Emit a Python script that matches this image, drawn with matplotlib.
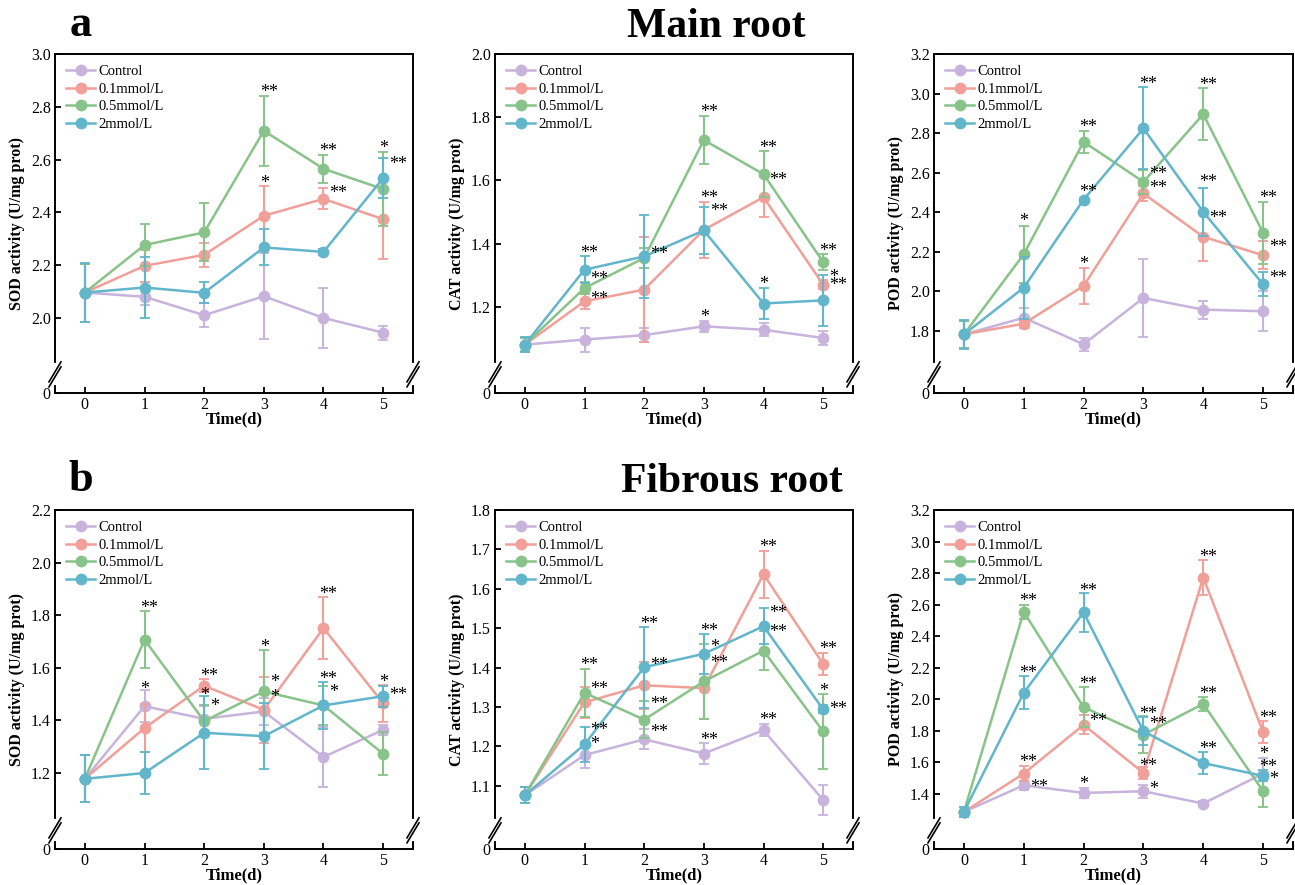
import numpy as np
import matplotlib
matplotlib.use("Agg")
import matplotlib.pyplot as plt

plt.rcParams['font.family'] = ['Liberation Serif', 'DejaVu Serif']

# data
days = [0, 1, 2, 3, 4, 5]
groups = ['Control', '0.1mmol/L', '0.5mmol/L', '2mmol/L']
colors = ['#c8b3dc', '#f09f99', '#88c389', '#62b6cb']

# main root SOD
sod_main = [
    [2.096, 2.080, 2.010, 2.082, 2.000, 1.944],
    [2.096, 2.197, 2.239, 2.387, 2.451, 2.374],
    [2.096, 2.276, 2.324, 2.709, 2.565, 2.488],
    [2.096, 2.115, 2.095, 2.267, 2.250, 2.530],
]
sod_main_err = [
    [0.11, 0.03, 0.045, 0.163, 0.115, 0.027],
    [0.11, 0.06, 0.045, 0.114, 0.04, 0.15],
    [0.11, 0.078, 0.11, 0.133, 0.053, 0.14],
    [0.112, 0.115, 0.04, 0.068, 0.012, 0.077],
]
sod_main_stars = [(3, 2.87, '**', 'c'), (3, 2.525, '*', 'c'), (4, 2.646, '**', 'c'),
                  (4, 2.49, '**', 'r'), (5, 2.66, '*', 'c'), (5, 2.60, '**', 'r')]

# main root CAT
cat_main = [
    [1.081, 1.097, 1.111, 1.139, 1.128, 1.102],
    [1.081, 1.218, 1.255, 1.444, 1.547, 1.271],
    [1.081, 1.260, 1.355, 1.728, 1.620, 1.342],
    [1.081, 1.318, 1.360, 1.442, 1.211, 1.221],
]
cat_main_err = [
    [0.023, 0.038, 0.021, 0.017, 0.021, 0.023],
    [0.02, 0.024, 0.165, 0.088, 0.063, 0.015],
    [0.02, 0.02, 0.031, 0.077, 0.072, 0.024],
    [0.023, 0.043, 0.13, 0.074, 0.049, 0.08],
]
cat_main_stars = [(1, 1.384, '**', 'c'), (1, 1.302, '**', 'r'), (1, 1.237, '**', 'r'),
                  (2, 1.381, '**', 'r'), (3, 1.83, '**', 'c'), (3, 1.557, '**', 'c'),
                  (3, 1.516, '**', 'r'), (3, 1.181, '*', 'c'), (4, 1.716, '**', 'c'),
                  (4, 1.613, '**', 'r'), (4, 1.284, '*', 'c'), (5, 1.389, '**', 'c'),
                  (5, 1.307, '*', 'r'), (5, 1.281, '**', 'r')]

# main root POD
pod_main = [
    [1.783, 1.867, 1.733, 1.967, 1.908, 1.900],
    [1.783, 1.837, 2.028, 2.495, 2.276, 2.183],
    [1.783, 2.188, 2.756, 2.554, 2.896, 2.296],
    [1.783, 2.019, 2.464, 2.824, 2.402, 2.036],
]
pod_main_err = [
    [0.07, 0.05, 0.034, 0.196, 0.046, 0.10],
    [0.07, 0.02, 0.09, 0.04, 0.12, 0.07],
    [0.07, 0.143, 0.056, 0.06, 0.13, 0.157],
    [0.072, 0.157, 0.01, 0.207, 0.123, 0.06],
]
pod_main_stars = [(1, 2.377, '*', 'c'), (2, 2.849, '**', 'c'), (2, 2.523, '**', 'c'),
                  (2, 2.157, '*', 'c'), (3, 3.068, '**', 'c'), (3, 2.613, '**', 'r'),
                  (3, 2.542, '**', 'r'), (4, 3.063, '**', 'c'), (4, 2.571, '**', 'c'),
                  (4, 2.39, '**', 'r'), (5, 2.495, '**', 'c'), (5, 2.247, '**', 'r'),
                  (5, 2.09, '**', 'r')]

# fibrous root SOD
sod_fib = [
    [1.178, 1.454, 1.406, 1.434, 1.261, 1.364],
    [1.178, 1.371, 1.532, 1.440, 1.751, 1.465],
    [1.178, 1.707, 1.397, 1.510, 1.457, 1.273],
    [1.178, 1.200, 1.353, 1.340, 1.457, 1.492],
]
sod_fib_err = [
    [0.089, 0.06, 0.05, 0.05, 0.114, 0.02],
    [0.089, 0.09, 0.025, 0.124, 0.117, 0.07],
    [0.089, 0.109, 0.06, 0.158, 0.075, 0.082],
    [0.089, 0.08, 0.139, 0.126, 0.088, 0.04],
]
sod_fib_stars = [(1, 1.842, '**', 'c'), (1, 1.535, '*', 'c'), (2, 1.583, '**', 'c'),
                 (2, 1.513, '*', 'c'), (2, 1.472, '*', 'r'), (3, 1.693, '*', 'c'),
                 (3, 1.562, '*', 'r'), (3, 1.505, '*', 'r'), (4, 1.895, '**', 'c'),
                 (4, 1.574, '**', 'c'), (4, 1.522, '*', 'r'), (5, 1.562, '*', 'c'),
                 (5, 1.513, '**', 'r')]

# fibrous root CAT
cat_fib = [
    [1.076, 1.178, 1.218, 1.182, 1.241, 1.064],
    [1.076, 1.312, 1.355, 1.348, 1.637, 1.409],
    [1.076, 1.336, 1.268, 1.365, 1.443, 1.238],
    [1.076, 1.205, 1.401, 1.435, 1.505, 1.294],
]
cat_fib_err = [
    [0.02, 0.033, 0.025, 0.027, 0.015, 0.039],
    [0.02, 0.04, 0.06, 0.078, 0.06, 0.027],
    [0.02, 0.061, 0.047, 0.095, 0.05, 0.095],
    [0.02, 0.044, 0.103, 0.05, 0.046, 0.01],
]
cat_fib_stars = [(1, 1.416, '**', 'c'), (1, 1.355, '**', 'r'), (1, 1.252, '**', 'r'),
                 (1, 1.216, '*', 'r'), (2, 1.521, '**', 'c'), (2, 1.418, '**', 'r'),
                 (2, 1.317, '**', 'r'), (2, 1.247, '**', 'r'), (3, 1.502, '**', 'c'),
                 (3, 1.462, '*', 'r'), (3, 1.422, '**', 'r'), (3, 1.227, '**', 'c'),
                 (4, 1.717, '**', 'c'), (4, 1.55, '**', 'r'), (4, 1.50, '**', 'r'),
                 (4, 1.277, '**', 'c'), (5, 1.457, '**', 'c'), (5, 1.35, '*', 'c'),
                 (5, 1.304, '**', 'r')]

# fibrous root POD
pod_fib = [
    [1.286, 1.455, 1.406, 1.417, 1.339, 1.529],
    [1.286, 1.529, 1.838, 1.533, 2.772, 1.792],
    [1.286, 2.555, 1.950, 1.775, 1.971, 1.417],
    [1.286, 2.041, 2.551, 1.798, 1.596, 1.514],
]
pod_fib_err = [
    [0.03, 0.03, 0.03, 0.04, 0.015, 0.1],
    [0.03, 0.046, 0.06, 0.04, 0.113, 0.07],
    [0.03, 0.045, 0.126, 0.116, 0.044, 0.1],
    [0.03, 0.104, 0.124, 0.09, 0.07, 0.035],
]
pod_fib_stars = [(1, 2.646, '**', 'c'), (1, 2.193, '**', 'c'), (1, 1.628, '**', 'c'),
                 (1, 1.472, '**', 'r'), (2, 2.715, '**', 'c'), (2, 2.125, '**', 'c'),
                 (2, 1.887, '**', 'r'), (2, 1.486, '*', 'c'), (3, 1.935, '**', 'c'),
                 (3, 1.87, '**', 'r'), (3, 1.602, '**', 'c'), (3, 1.455, '*', 'r'),
                 (4, 2.93, '**', 'c'), (4, 2.062, '**', 'c'), (4, 1.708, '**', 'c'),
                 (5, 1.908, '**', 'c'), (5, 1.676, '*', 'c'), (5, 1.596, '**', 'c'),
                 (5, 1.518, '*', 'r')]

# panel settings: ylabel, axis top, lower value of the upper segment, ticks
panels = [
    (sod_main, sod_main_err, sod_main_stars, 'SOD activity (U/mg prot)', 3.0, 1.786, np.arange(2.0, 3.01, 0.2)),
    (cat_main, cat_main_err, cat_main_stars, 'CAT activity (U/mg prot)', 2.0, 0.987, np.arange(1.2, 2.01, 0.2)),
    (pod_main, pod_main_err, pod_main_stars, 'POD activity (U/mg prot)', 3.2, 1.581, np.arange(1.8, 3.21, 0.2)),
    (sod_fib, sod_fib_err, sod_fib_stars, 'SOD activity (U/mg prot)', 2.2, 0.982, np.arange(1.2, 2.21, 0.2)),
    (cat_fib, cat_fib_err, cat_fib_stars, 'CAT activity (U/mg prot)', 1.8, 0.987, np.arange(1.1, 1.81, 0.1)),
    (pod_fib, pod_fib_err, pod_fib_stars, 'POD activity (U/mg prot)', 3.2, 1.169, np.arange(1.4, 3.21, 0.2)),
]

FRAC = 0.055  # share of axis height given to the 0..L segment

def make_scale(low, top):
    def fwd(y):
        y = np.asarray(y, dtype=float)
        return np.where(y < low, y / low * FRAC, FRAC + (y - low) / (top - low) * (1 - FRAC))
    def inv(v):
        v = np.asarray(v, dtype=float)
        return np.where(v < FRAC, v / FRAC * low, low + (v - FRAC) / (1 - FRAC) * (top - low))
    return fwd, inv

fig = plt.figure(figsize=(12.95, 8.85), dpi=100)

W, H = 1295.0, 885.0
lefts = [55, 495, 934]
widths = [358, 358, 359]
tops = [54, 510]
ax_h = 339

for i, (vals, errs, stars, ylab, top, low, ticks) in enumerate(panels):
    r, c = divmod(i, 3)
    ax = fig.add_axes([lefts[c] / W, 1 - (tops[r] + ax_h) / H, widths[c] / W, ax_h / H])
    fwd, inv = make_scale(low, top)
    ax.set_yscale('function', functions=(fwd, inv))

    handles = []
    for k in range(4):
        ax.errorbar(days, vals[k], yerr=errs[k], color=colors[k], ecolor=colors[k],
                    elinewidth=1.5, capsize=3.5, capthick=1.3, lw=0, zorder=2 + k)
        h, = ax.plot(days, vals[k], '-o', color=colors[k], lw=1.8, ms=7.5,
                     label=groups[k], zorder=2.5 + k)
        handles.append(h)

    for d, y, s, side in stars:
        x = d - 0.07 if side == 'c' else d + 0.1
        ax.annotate(s, (x, y), xytext=(0, -6.5), textcoords='offset points',
                    ha='left', va='baseline', fontsize=13, zorder=10)

    ax.set_xlim(-0.5, 5.5)
    ax.set_ylim(0, top)
    ax.set_xticks(days)
    ax.set_xticklabels([str(d) for d in days])
    yt = [0] + list(np.round(ticks, 2))
    ax.set_yticks(yt)
    ax.set_yticklabels(['0'] + ['%.1f' % t for t in ticks])
    ax.yaxis.set_minor_locator(matplotlib.ticker.NullLocator())
    ax.tick_params(direction='in', length=4, width=1.3, labelsize=11.5, pad=3)
    for sp in ax.spines.values():
        sp.set_linewidth(1.4)

    ax.set_xlabel('Time(d)', fontsize=12, fontweight='bold', labelpad=-1)
    ax.set_ylabel(ylab, fontsize=11.5, fontweight='bold', labelpad=4)

    ax.legend(handles=handles, loc='upper left', frameon=False, fontsize=10.5,
              handlelength=2.0, handletextpad=0.2, labelspacing=0.3,
              borderaxespad=0.35)

    # axis break marks on both vertical spines
    px = 1.0 / widths[c]
    py = 1.0 / ax_h
    for xs in (0, 1):
        ax.plot([xs, xs], [FRAC - 9 * py, FRAC + 9 * py], transform=ax.transAxes,
                color='white', lw=3, clip_on=False, zorder=20)
        for off in (-2.5, 2.5):
            ax.plot([xs - 6 * px, xs + 6 * px],
                    [FRAC + (off - 10) * py, FRAC + (off + 10) * py],
                    transform=ax.transAxes, color='black', lw=1.2,
                    clip_on=False, zorder=21)

fig.text(81 / W, 1 - 36 / H, 'a', fontsize=32, fontweight='bold', ha='center', va='baseline')
fig.text(716 / W, 1 - 37 / H, 'Main root', fontsize=30, fontweight='bold', ha='center', va='baseline')
fig.text(81 / W, 1 - 491 / H, 'b', fontsize=32, fontweight='bold', ha='center', va='baseline')
fig.text(732 / W, 1 - 492 / H, 'Fibrous root', fontsize=30, fontweight='bold', ha='center', va='baseline')

fig.savefig('out.png', dpi=100)
